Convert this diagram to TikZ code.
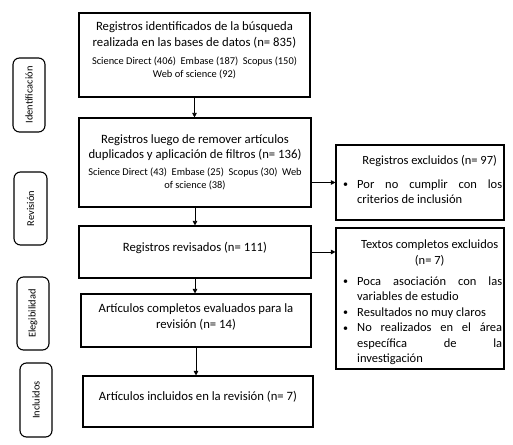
\documentclass[tikz,border=0pt]{standalone}
\usepackage{fontspec}
\setmainfont{Carlito}
\usetikzlibrary{arrows.meta}
\newcommand{\mainsz}{\fontsize{12.7}{15.5}\selectfont}
\newcommand{\smallsz}{\fontsize{10.4}{12.5}\selectfont}
\newcommand{\rightsz}{\fontsize{12.5}{15.5}\selectfont}
\newcommand{\bul}{\makebox[14pt][l]{\raisebox{0.5pt}{\scalebox{0.8}{\textbullet}}}}
\newcommand{\jl}[1]{\makebox[145pt][s]{#1}}
\begin{document}
\begin{tikzpicture}[x=1pt,y=1pt,
  box/.style={draw,line width=1.1pt,inner sep=0pt},
  mtxt/.style={inner sep=0pt,align=center,font=\mainsz},
  stxt/.style={inner sep=0pt,align=center,font=\smallsz},
  side/.style={draw,line width=1.1pt,rounded corners=6.5pt,rotate=90,inner sep=0pt,font=\fontsize{10.4}{12}\selectfont},
  txt/.style={inner sep=0pt,align=left,anchor=north west,font=\rightsz},
  arr/.style={line width=0.8pt,-{Triangle[length=4.5pt,width=4.5pt]}}]
\useasboundingbox (0,0) rectangle (513,444);
% main boxes
\node[box,minimum width=231,minimum height=84] (b1) at (194.5,389) {};
\node[mtxt] (b1t) at (194.5,409.25) {Registros identificados de la búsqueda\\realizada en las bases de datos (n= 835)};
\node[stxt] (b1s) at (194.5,376) {Science Direct (406)\ \ Embase (187)\ \ Scopus (150)\\Web of science (92)};
\node[box,minimum width=232,minimum height=89] (b2) at (195,281.5) {};
\node[mtxt] (b2t) at (195,296.25) {Registros luego de remover artículos\\duplicados y aplicación de filtros (n= 136)};
\node[stxt] (b2s) at (195,265) {Science Direct (43)\ \ Embase (25)\ \ Scopus (30)\ \ Web\\of science (38)};
\node[box,minimum width=232,minimum height=52] (b3) at (195,192) {};
\node[mtxt] (b3t) at (195,196.5) {Registros revisados (n= 111)};
\node[box,minimum width=230,minimum height=53] (b4) at (196,123.5) {};
\node[mtxt] (b4t) at (196,127.25) {Artículos completos evaluados para la\\revisión (n= 14)};
\node[box,minimum width=230,minimum height=51] (b5) at (198,42.5) {};
\node[mtxt] (b5t) at (198,47) {Artículos incluidos en la revisión (n= 7)};
% right boxes
\node[box,minimum width=168,minimum height=75] (A) at (420,261.5) {};
\node[box,minimum width=168,minimum height=141] (B) at (420,145.5) {};
\node[txt] (At) at (343,289)
  {\hspace*{14pt}\makebox[145pt]{Registros excluidos (n= 97)}\\[8.5pt]
   \bul\jl{Por no cumplir con los}\\
   \hspace*{14pt}criterios de inclusión};
\node[txt] (Bt) at (343,204)
  {\hspace*{14pt}\makebox[145pt]{Textos completos excluidos}\\
   \hspace*{14pt}\makebox[145pt]{(n= 7)}\\[5.5pt]
   \bul\jl{Poca asociación con las}\\
   \hspace*{14pt}variables de estudio\\
   \bul Resultados no muy claros\\
   \bul\jl{No realizados en el área}\\
   \hspace*{14pt}\jl{específica de la}\\
   \hspace*{14pt}investigación};
% side labels
\node[side,minimum width=74,minimum height=32] (s1) at (29,349) {Identificación};
\node[side,minimum width=73,minimum height=33] (s2) at (30.5,235.5) {Revisión};
\node[side,minimum width=73,minimum height=32] (s3) at (33,130.5) {Elegibilidad};
\node[side,minimum width=74,minimum height=32] (s4) at (36,44) {Incluidos};
% arrows
\draw[arr] (b1.south) -- (b1.south |- b2.north);
\draw[arr] (b2.south) -- (b2.south |- b3.north);
\draw[arr] (b3.south) -- (b3.south |- b4.north);
\draw[arr] (b4.south) -- (b4.south |- b5.north);
\draw[arr] (A.west -| b2.east) -- (A.west);
\draw[arr] (b3.east) -- (b3.east -| B.west);
\end{tikzpicture}
\end{document}
